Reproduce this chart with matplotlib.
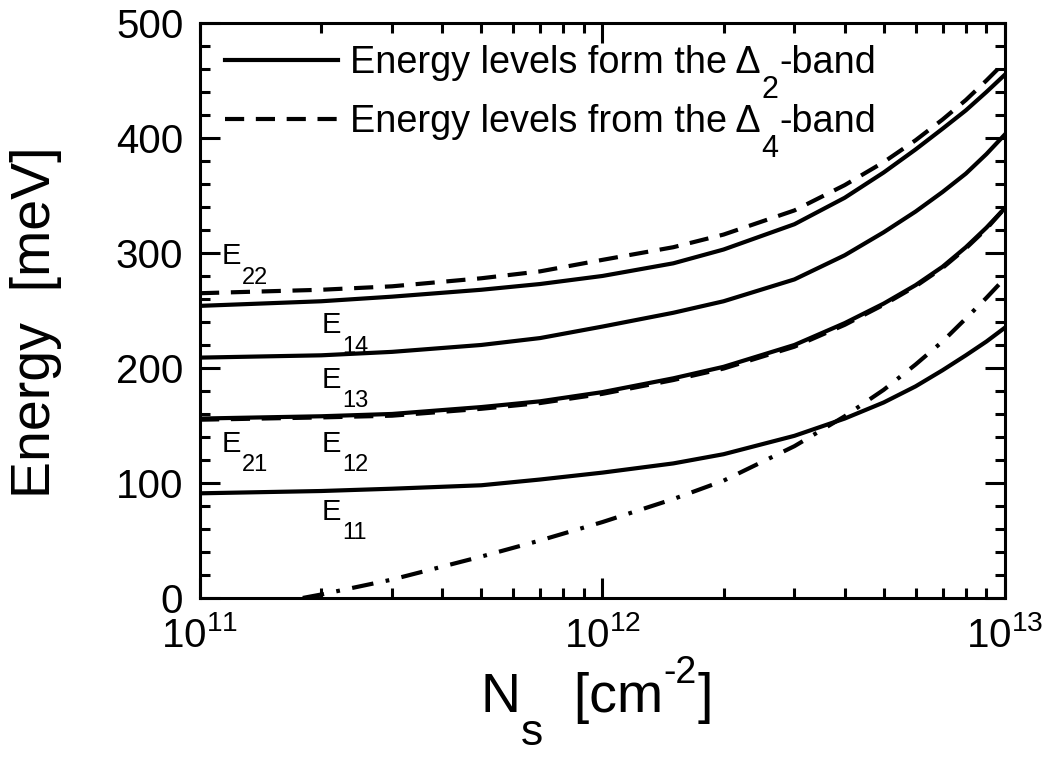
import matplotlib
matplotlib.use("Agg")
import matplotlib.pyplot as plt
from matplotlib.lines import Line2D
from matplotlib.ticker import LogLocator, NullFormatter, MultipleLocator

plt.rcParams["font.family"] = ["Liberation Sans", "DejaVu Sans"]
plt.rcParams["mathtext.fontset"] = "custom"
plt.rcParams["mathtext.rm"] = "Liberation Sans"
plt.rcParams["mathtext.it"] = "Liberation Sans:italic"
plt.rcParams["mathtext.bf"] = "Liberation Sans:bold"
plt.rcParams["mathtext.default"] = "regular"

# sheet density grid [cm^-2]
ns = [1e11, 2e11, 3e11, 5e11, 7e11, 1e12, 1.5e12, 2e12, 3e12,
      4e12, 5e12, 6e12, 7e12, 8e12, 9e12, 1e13]

# Delta-2 subband energies [meV]
e11 = [91, 93, 95, 98, 103, 109, 117, 125, 141, 156, 170, 184, 198, 211, 223, 235]
e12 = [156, 158, 160, 166, 171, 179, 191, 201, 220, 239, 256, 272, 288, 305, 322, 339]
e13 = [209, 211, 214, 220, 226, 236, 248, 258, 277, 298, 318, 336, 353, 369, 386, 403]
e14 = [254, 258, 262, 268, 273, 280, 291, 303, 325, 348, 370, 390, 408, 424, 440, 455]

# Delta-4 subband energies [meV]
e21 = [155, 157, 158.5, 164.5, 169.5, 177.5, 189.5, 199.5, 218.5, 237.5, 255, 271, 287, 304, 321, 339]
e22 = [265, 268, 271, 278, 284, 294, 305, 316, 337, 359, 379, 398, 416, 433, 450, 466]

# Fermi level [meV]
ns_f = [1.8e11, 2e11, 3e11, 5e11, 7e11, 1e12, 1.5e12, 2e12, 3e12,
        4e12, 5e12, 6e12, 7e12, 8e12, 9e12, 1e13]
ef = [0, 3, 16, 36, 50, 66, 86, 102, 132, 158, 181, 203, 223, 243, 261, 278]

# level labels: letter, subscript, N_s and energy of the baseline
level_base = ["E", "E", "E", "E", "E", "E"]
level_sub = ["22", "14", "13", "21", "12", "11"]
level_ns = [1.13e11, 2.01e11, 2.01e11, 1.13e11, 2.01e11, 2.01e11]
level_e = [290, 230, 183, 127, 127, 68]

legend_text = ["Energy levels form the \u0394", "Energy levels from the \u0394"]
legend_sub = ["2", "4"]
legend_tail = ["-band", "-band"]

fig = plt.figure(figsize=(10.5, 7.63), dpi=100)
ax = fig.add_axes([0.1905, 0.2163, 0.7665, 0.7536])

lw = 3.0
dash = (4.6, 2.8)
for e in [e11, e12, e13, e14]:
    ax.plot(ns, e, color="black", lw=lw)
for e in [e21, e22]:
    ax.plot(ns, e, color="black", lw=lw, dashes=dash)
ax.plot(ns_f, ef, color="black", lw=lw, dashes=(5.2, 3.0, 0.9, 3.0))


def subscript(base, sub, size, ycoords, y=0, drop=1.0, z=3):
    # lowered subscript placed right after a text artist
    return ax.annotate(sub, xy=(1, y), xycoords=(base, ycoords),
                       xytext=(0.5, -drop), textcoords="offset points",
                       fontsize=size, va="top", ha="left", zorder=z)


for b, s, x, y in zip(level_base, level_sub, level_ns, level_e):
    t = ax.text(x, y, b, fontsize=21, va="baseline", ha="left")
    subscript(t, s, 17, "data", y=y, drop=1.5)

ax.set_xscale("log")
ax.set_xlim(1e11, 1e13)
ax.set_ylim(0, 500)

ax.yaxis.set_major_locator(MultipleLocator(100))
ax.yaxis.set_minor_locator(MultipleLocator(20))
ax.xaxis.set_major_locator(LogLocator(base=10, numticks=10))
ax.xaxis.set_minor_locator(LogLocator(base=10, subs=range(2, 10), numticks=20))
ax.xaxis.set_minor_formatter(NullFormatter())

for s in ax.spines.values():
    s.set_linewidth(2.2)
ax.tick_params(which="both", direction="in", top=True, right=True, width=2.2)
ax.tick_params(which="major", length=14.5, labelsize=29)
ax.tick_params(which="minor", length=7.2)
ax.tick_params(axis="y", which="major", pad=12)
ax.tick_params(axis="x", which="major", pad=13)

ax.set_ylabel("Energy  [meV]", fontsize=40)
ax.yaxis.set_label_coords(-0.172, 0.48)

# x label: N_s  [cm^-2] with an ordinary hyphen in the exponent
xl = ax.text(0.348, -0.198, "N", transform=ax.transAxes, fontsize=40,
             va="baseline", ha="left")
xs = subscript(xl, "s", 32, "axes fraction", y=-0.198, drop=0.5)
xb = ax.annotate("  [cm", xy=(1, -0.198), xycoords=(xs, "axes fraction"),
                 xytext=(0, 0), textcoords="offset points",
                 fontsize=40, va="baseline", ha="left")
xe = ax.annotate("-2", xy=(1, -0.198), xycoords=(xb, "axes fraction"),
                 xytext=(0.5, 21), textcoords="offset points",
                 fontsize=27, va="baseline", ha="left")
ax.annotate("]", xy=(1, -0.198), xycoords=(xe, "axes fraction"),
            xytext=(0.5, 0), textcoords="offset points",
            fontsize=40, va="baseline", ha="left")

handles = [Line2D([], [], color="black", lw=lw),
           Line2D([], [], color="black", lw=lw, dashes=dash)]
leg = ax.legend(handles, legend_text, loc="upper left",
                bbox_to_anchor=(0.031, 0.961), frameon=False, fontsize=27.3,
                handlelength=2.97, handletextpad=0.33, borderpad=0,
                borderaxespad=0, labelspacing=0.6)

for t, s, tail in zip(leg.get_texts(), legend_sub, legend_tail):
    # bbox bottom of a 27 pt line sits ~5.7 pt below its baseline
    sb = ax.annotate(s, xy=(1, 0), xycoords=t, xytext=(0.5, 4.5),
                     textcoords="offset points", fontsize=22, va="top",
                     ha="left", zorder=6)
    ax.annotate(tail, xy=(1, 0), xycoords=(sb, t), xytext=(0.5, 0),
                textcoords="offset points", fontsize=27.3, va="bottom",
                ha="left", zorder=6)

fig.savefig("out.png", dpi=100)
